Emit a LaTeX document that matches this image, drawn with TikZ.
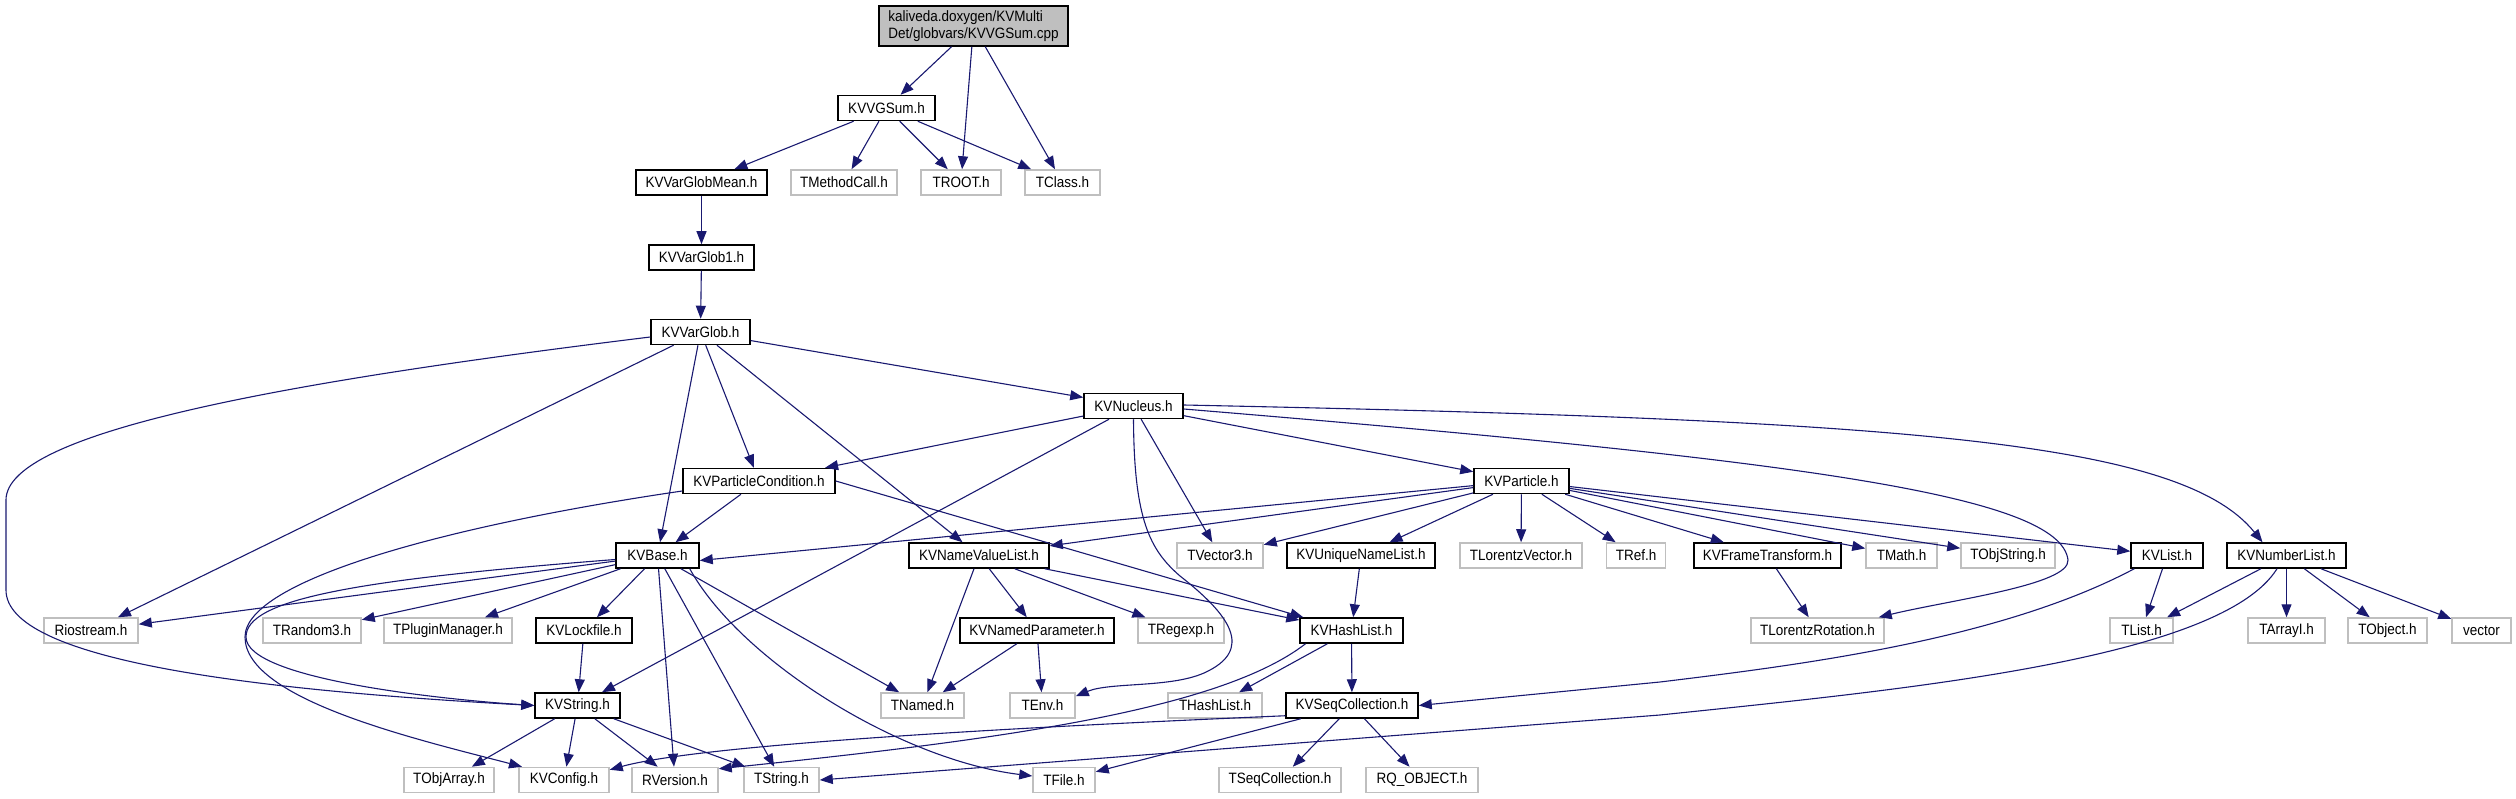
\documentclass[tikz,border=0pt]{standalone}
\usepackage{fontspec}
\setmainfont{Liberation Sans}[FakeStretch=0.9]
\usetikzlibrary{arrows.meta}
\definecolor{edgeblue}{HTML}{191970}
\definecolor{greyborder}{HTML}{BFBFBF}
\tikzset{
  box/.style={rectangle, minimum height=25pt, inner sep=0pt, line width=1.5pt, fill=white, font=\fontsize{15}{16.5}\selectfont},
  doc/.style={box, draw=black},
  ext/.style={box, draw=greyborder},
  dep/.style={draw=edgeblue, line width=1.1pt, -{Triangle[length=13pt,width=10pt]}},
}
\begin{document}
\begin{tikzpicture}[x=1pt,y=-1pt]
\useasboundingbox (0,0) rectangle (2516,799);
% rank 0-4
\node[doc, fill=greyborder, minimum width=189pt, minimum height=40pt, align=left] (root) at (973.5,26) {kaliveda.doxygen/KVMulti\\Det/globvars/KVVGSum.cpp};
\node[doc, minimum width=97pt] (vgsum) at (886.5,108) {KVVGSum.h};
\node[doc, minimum width=131pt] (vgmean) at (701.5,182.5) {KVVarGlobMean.h};
\node[ext, minimum width=106pt] (tmethod) at (844,182.5) {TMethodCall.h};
\node[ext, minimum width=80pt] (troot) at (961,182.5) {TROOT.h};
\node[ext, minimum width=75pt] (tclass) at (1062.5,182.5) {TClass.h};
\node[doc, minimum width=105pt] (vglob1) at (701.5,257.5) {KVVarGlob1.h};
\node[doc, minimum width=99pt] (vglob) at (700.5,332) {KVVarGlob.h};
% rank 5-6
\node[doc, minimum width=99pt] (nucleus) at (1133.5,406) {KVNucleus.h};
\node[doc, minimum width=152pt] (pcond) at (759,481) {KVParticleCondition.h};
\node[doc, minimum width=95pt] (particle) at (1521.5,481) {KVParticle.h};
% rank 7
\node[doc, minimum width=83pt] (kvbase) at (657.5,555.5) {KVBase.h};
\node[doc, minimum width=140pt] (nvl) at (979,555.5) {KVNameValueList.h};
\node[ext, minimum width=86pt] (tvec3) at (1220,555.5) {TVector3.h};
\node[doc, minimum width=148pt] (unl) at (1361,555.5) {KVUniqueNameList.h};
\node[ext, minimum width=122pt] (tlv) at (1521,555.5) {TLorentzVector.h};
\node[ext, minimum width=59pt] (tref) at (1636,555.5) {TRef.h};
\node[doc, minimum width=147pt] (kvft) at (1767.5,555.5) {KVFrameTransform.h};
\node[ext, minimum width=71pt] (tmath) at (1901.5,555.5) {TMath.h};
\node[ext, minimum width=94pt] (tobjstr) at (2008,555.5) {TObjString.h};
\node[doc, minimum width=72pt] (kvlist) at (2167,555.5) {KVList.h};
\node[doc, minimum width=119pt] (numlist) at (2286.5,555.5) {KVNumberList.h};
% rank 8
\node[ext, minimum width=94pt] (riostream) at (91,630.5) {Riostream.h};
\node[ext, minimum width=98pt] (trandom) at (312,630.5) {TRandom3.h};
\node[ext, minimum width=128pt] (tplugin) at (448,630.5) {TPluginManager.h};
\node[doc, minimum width=96pt] (lockfile) at (584,630.5) {KVLockfile.h};
\node[doc, minimum width=154pt] (namedpar) at (1037,630.5) {KVNamedParameter.h};
\node[ext, minimum width=86pt] (tregexp) at (1181,630.5) {TRegexp.h};
\node[doc, minimum width=103pt] (hashlist) at (1351.5,630.5) {KVHashList.h};
\node[ext, minimum width=133pt] (tlrot) at (1817.5,630.5) {TLorentzRotation.h};
\node[ext, minimum width=63pt] (tlist) at (2141.5,630.5) {TList.h};
\node[ext, minimum width=77pt] (tarrayi) at (2286.5,630.5) {TArrayI.h};
\node[ext, minimum width=79pt] (tobject) at (2387.5,630.5) {TObject.h};
\node[ext, minimum width=59pt] (vector) at (2481.5,630.5) {vector};
% rank 9
\node[doc, minimum width=85pt] (kvstring) at (577.5,705.5) {KVString.h};
\node[ext, minimum width=83pt] (tnamed) at (922.5,705.5) {TNamed.h};
\node[ext, minimum width=65pt] (tenv) at (1042.5,705.5) {TEnv.h};
\node[ext, minimum width=94pt] (thashlist) at (1215,705.5) {THashList.h};
\node[doc, minimum width=132pt] (seqcoll) at (1352,705.5) {KVSeqCollection.h};
% rank 10
\node[ext, minimum width=90pt] (tobjarray) at (449,780) {TObjArray.h};
\node[ext, minimum width=90pt] (kvconfig) at (564,780) {KVConfig.h};
\node[ext, minimum width=86pt] (rversion) at (675,780) {RVersion.h};
\node[ext, minimum width=75pt] (tstring) at (781.5,780) {TString.h};
\node[ext, minimum width=62pt] (tfile) at (1064,780) {TFile.h};
\node[ext, minimum width=122pt] (tseqcoll) at (1280,780) {TSeqCollection.h};
\node[ext, minimum width=112pt] (rqobject) at (1422,780) {RQ\_OBJECT.h};

% edges
\draw[dep] (root) -- (vgsum);
\draw[dep] (root) -- (troot);
\draw[dep] (root) -- (tclass);
\draw[dep] (vgsum) -- (vgmean);
\draw[dep] (vgsum) -- (tmethod);
\draw[dep] (vgsum) -- (troot);
\draw[dep] (vgsum) -- (tclass);
\draw[dep] (vgmean) -- (vglob1);
\draw[dep] (vglob1) -- (vglob);
\draw[dep] (vglob) -- (nucleus);
\draw[dep] (vglob) -- (pcond);
\draw[dep] (vglob) -- (kvbase);
\draw[dep] (vglob) -- (nvl);
\draw[dep] (vglob) -- (riostream);
\draw[dep] ([yshift=-5pt]vglob.west) .. controls (300,380) and (6,430) .. (6,500) -- (6,590) .. controls (6,660) and (250,690) .. (kvstring.west);
\draw[dep] (nucleus) -- (pcond);
\draw[dep] (nucleus) -- (kvstring);
\draw[dep] (nucleus.south) .. controls (1134,520) and (1150,550) .. (1180,576) .. controls (1230,615) and (1255,650) .. (1204,673) .. controls (1170,688) and (1110,682) .. ([yshift=-4pt]tenv.north east);
\draw[dep] (nucleus) -- (tvec3);
\draw[dep] (nucleus) -- (particle);
\draw[dep] ([yshift=-3pt]nucleus.east) .. controls (1800,460) and (2060,495) .. (2068,560) .. controls (2070,585) and (1950,600) .. ([xshift=-6pt]tlrot.north east);
\draw[dep] ([yshift=1pt]nucleus.east) .. controls (1900,420) and (2180,440) .. ([xshift=-24pt]numlist.north);
\draw[dep] (pcond) -- (kvbase);
\draw[dep] ([yshift=-10pt]pcond.west) .. controls (450,525) and (245,580) .. (245,637) .. controls (245,700) and (420,740) .. ([xshift=-42pt]kvconfig.north);
\draw[dep] (pcond.east) -- ([xshift=4pt]hashlist.north west);
\draw[dep] (particle) -- ([yshift=-5pt]kvbase.east);
\draw[dep] (particle) -- (nvl);
\draw[dep] (particle) -- (tvec3);
\draw[dep] (particle) -- (unl);
\draw[dep] (particle) -- (tlv);
\draw[dep] (particle) -- (tref);
\draw[dep] (particle) -- (kvft);
\draw[dep] (particle) -- (tmath);
\draw[dep] (particle) -- (tobjstr);
\draw[dep] (particle) -- (kvlist);
\draw[dep] (kvbase) -- (riostream);
\draw[dep] (kvbase) -- (trandom);
\draw[dep] (kvbase) -- (tplugin);
\draw[dep] (kvbase) -- (lockfile);
\draw[dep] ([yshift=-4pt]kvbase.west) .. controls (350,580) and (246,600) .. (246,637) .. controls (246,680) and (450,700) .. (kvstring.west);
\draw[dep] (kvbase) -- (rversion);
\draw[dep] (kvbase) -- (tstring);
\draw[dep] (kvbase) -- (tnamed);
\draw[dep] ([xshift=-10pt]kvbase.south east) .. controls (740,660) and (900,760) .. ([yshift=4pt]tfile.west);
\draw[dep] (lockfile) -- (kvstring);
\draw[dep] (kvstring) -- (tobjarray);
\draw[dep] (kvstring) -- (kvconfig);
\draw[dep] (kvstring) -- (rversion);
\draw[dep] (kvstring) -- (tstring);
\draw[dep] (nvl) -- (tnamed);
\draw[dep] (nvl) -- (namedpar);
\draw[dep] (nvl) -- (tregexp);
\draw[dep] (nvl) -- (hashlist);
\draw[dep] (namedpar) -- (tnamed);
\draw[dep] (namedpar) -- (tenv);
\draw[dep] (unl) -- (hashlist);
\draw[dep] (hashlist) -- (thashlist);
\draw[dep] (hashlist) -- (seqcoll);
\draw[dep] ([xshift=-46pt]hashlist.south) .. controls (1220,710) and (1000,740) .. ([yshift=-2pt]rversion.north east);
\draw[dep] ([yshift=3pt]seqcoll.south west) .. controls (1000,728) and (700,745) .. ([yshift=-3pt]kvconfig.north east);
\draw[dep] (seqcoll) -- (tfile);
\draw[dep] (seqcoll) -- (tseqcoll);
\draw[dep] (seqcoll) -- (rqobject);
\draw[dep] (kvlist) -- (tlist);
\draw[dep] ([xshift=4pt]kvlist.south west) .. controls (2000,640) and (1800,665) .. (1660,682) -- (seqcoll.east);
\draw[dep] (numlist) -- (tlist);
\draw[dep] (numlist) -- (tarrayi);
\draw[dep] (numlist) -- (tobject);
\draw[dep] (numlist) -- (vector);
\draw[dep] ([xshift=-9.5pt]numlist.south) .. controls (2220,660) and (1900,690) .. (1660,715) -- (tstring.east);
\draw[dep] (kvft) -- (tlrot);
\end{tikzpicture}
\end{document}
